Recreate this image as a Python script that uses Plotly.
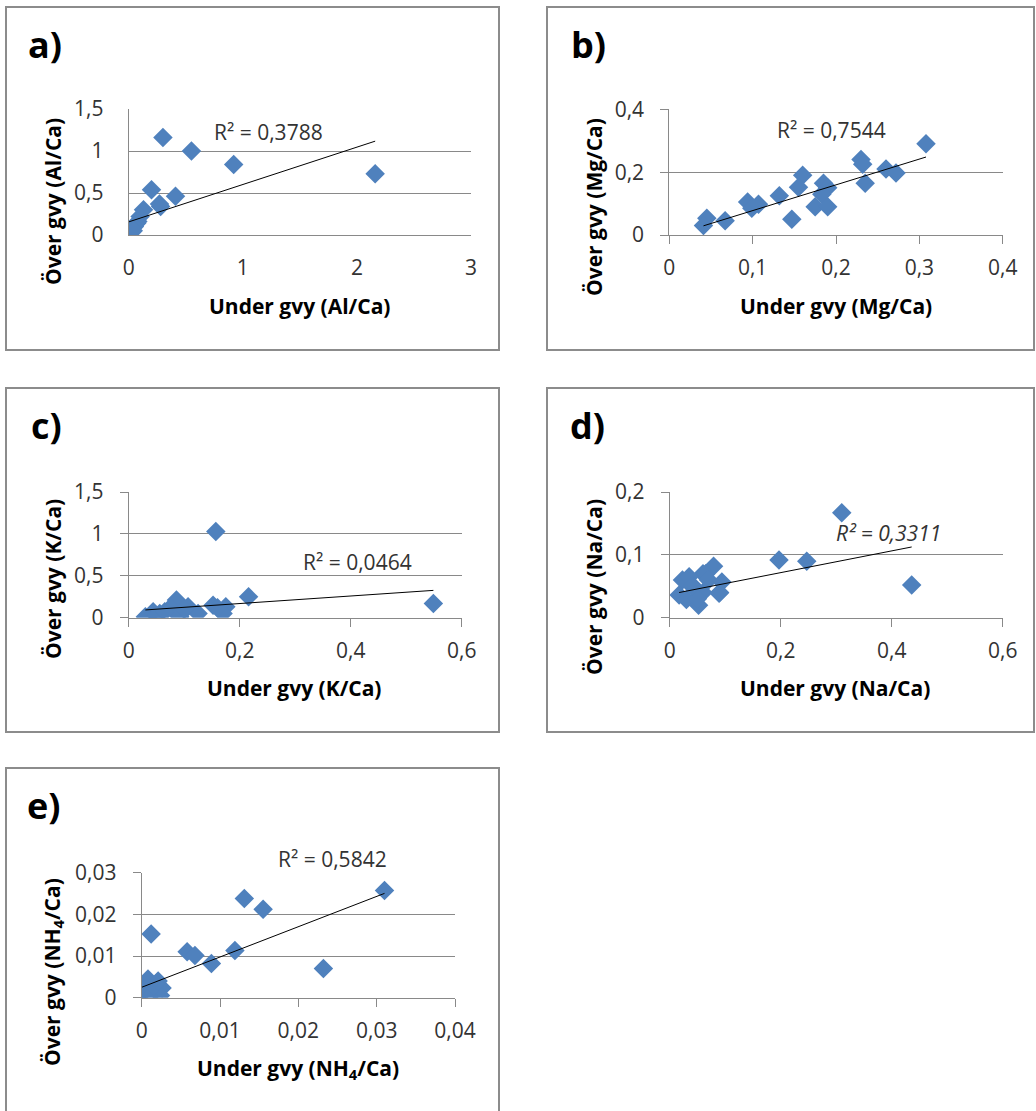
import plotly.graph_objects as go
import numpy as np

W, H = 1036, 1111

# ---------------- data ----------------
al_under = [0.30, 0.55, 0.92, 2.16, 0.20, 0.41, 0.28, 0.27, 0.13, 0.10, 0.08, 0.07, 0.05, 0.03, 0.02, 0.01, 0.0, 0.0, 0.04]
al_over = [1.16, 1.00, 0.84, 0.73, 0.54, 0.46, 0.34, 0.37, 0.30, 0.22, 0.16, 0.14, 0.10, 0.08, 0.06, 0.03, 0.0, 0.02, 0.05]

mg_under = [0.308, 0.230, 0.232, 0.235, 0.260, 0.272, 0.160, 0.155, 0.185, 0.190, 0.183, 0.175, 0.190, 0.147,
            0.132, 0.094, 0.099, 0.107, 0.045, 0.041, 0.067]
mg_over = [0.290, 0.240, 0.225, 0.165, 0.210, 0.197, 0.190, 0.152, 0.165, 0.150, 0.130, 0.090, 0.090, 0.050,
           0.125, 0.105, 0.085, 0.098, 0.053, 0.030, 0.045]

k_under = [0.157, 0.549, 0.216, 0.086, 0.092, 0.152, 0.175, 0.170, 0.107, 0.125, 0.160, 0.056, 0.044, 0.030,
           0.075, 0.100, 0.050, 0.065]
k_over = [1.03, 0.17, 0.25, 0.21, 0.01, 0.15, 0.13, 0.05, 0.13, 0.05, 0.12, 0.05, 0.07, 0.01,
          0.12, 0.10, 0.02, 0.07]

na_under = [0.310, 0.197, 0.247, 0.436, 0.079, 0.094, 0.090, 0.060, 0.023, 0.035, 0.017, 0.030, 0.052, 0.060,
            0.089, 0.044, 0.065, 0.050, 0.040, 0.070]
na_over = [0.167, 0.092, 0.090, 0.052, 0.082, 0.057, 0.040, 0.070, 0.060, 0.065, 0.036, 0.029, 0.020, 0.040,
           0.039, 0.049, 0.070, 0.030, 0.050, 0.060]

nh4_under = [0.0310, 0.0131, 0.0155, 0.0012, 0.0058, 0.0068, 0.0089, 0.0119, 0.0232, 0.0008, 0.0019, 0.0026,
             0.0024, 0.0000, 0.0004, 0.0010, 0.0015, 0.0021]
nh4_over = [0.0257, 0.0238, 0.0212, 0.0153, 0.0110, 0.0101, 0.0082, 0.0113, 0.0070, 0.0045, 0.0035, 0.0023,
            0.0005, 0.0008, 0.0020, 0.0003, 0.0027, 0.0040]

# linear trend lines (slope, intercept) as shown in the chart
trend_al = (0.445, 0.156)
trend_mg = (0.82, -0.0044)
trend_k = (0.45, 0.079)
trend_na = (0.173, 0.0371)
trend_nh4 = (0.727, 0.0025)

r2_labels = ["R² = 0,3788", "R² = 0,7544", "R² = 0,0464", "R² = 0,3311", "R² = 0,5842"]
panel_labels = ["a)", "b)", "c)", "d)", "e)"]
x_titles = ["Under gvy (Al/Ca)", "Under gvy (Mg/Ca)", "Under gvy (K/Ca)", "Under gvy (Na/Ca)",
            "Under gvy (NH<sub>4</sub>/Ca)"]
y_titles = ["Över gvy (Al/Ca)", "Över gvy (Mg/Ca)", "Över gvy (K/Ca)", "Över gvy (Na/Ca)",
            "Över gvy (NH<sub>4</sub>/Ca)"]

x_tickvals = [[0, 1, 2, 3], [0, 0.1, 0.2, 0.3, 0.4], [0, 0.2, 0.4, 0.6], [0, 0.2, 0.4, 0.6],
              [0, 0.01, 0.02, 0.03, 0.04]]
x_ticktext = [["0", "1", "2", "3"], ["0", "0,1", "0,2", "0,3", "0,4"], ["0", "0,2", "0,4", "0,6"],
              ["0", "0,2", "0,4", "0,6"], ["0", "0,01", "0,02", "0,03", "0,04"]]
y_tickvals = [[0, 0.5, 1, 1.5], [0, 0.2, 0.4], [0, 0.5, 1, 1.5], [0, 0.1, 0.2], [0, 0.01, 0.02, 0.03]]
y_ticktext = [["0", "0,5", "1", "1,5"], ["0", "0,2", "0,4"], ["0", "0,5", "1", "1,5"],
              ["0", "0,1", "0,2"], ["0", "0,01", "0,02", "0,03"]]

# ---------------- layout geometry (pixels in the page) ----------------
# plot areas: x0, x1, ytop, ybottom
areas = [(128.7, 471.0, 109.0, 235.0), (669.3, 1002.7, 109.3, 235.0), (128.7, 461.7, 492.0, 617.7),
         (669.7, 1002.7, 492.0, 617.7), (141.7, 455.0, 872.7, 997.7)]
boxes = [(6, 499, 7, 350), (547, 1034, 7, 350), (6, 499, 388, 732), (547, 1034, 388, 732), (6, 499, 768, 1120)]
label_pos = [(45, 44), (588, 44), (46, 425), (587, 425), (43, 805)]
r2_pos = [(268, 132), (831, 130), (357, 562), (888, 533), (332, 859)]
xt_pos = [(299, 306), (836, 306), (294, 688), (835, 688), (298, 1069)]
yt_pos = [(53, 202), (594, 207), (53, 579), (594, 587), (53, 972)]
has_ticks = [False, True, True, True, True]

datasets = [(al_under, al_over, trend_al), (mg_under, mg_over, trend_mg), (k_under, k_over, trend_k),
            (na_under, na_over, trend_na), (nh4_under, nh4_over, trend_nh4)]

FONT = "Open Sans"
BLUE = "#4F81BD"
GRID = "#898989"

def px(x):
    return x / W

def py(y):
    return 1 - y / H

fig = go.Figure()
layout = dict(width=W, height=H, autosize=False, margin=dict(l=0, r=0, t=0, b=0, pad=0, autoexpand=False),
              paper_bgcolor="white", plot_bgcolor="white", showlegend=False, annotations=[], shapes=[],
              template="none")

for i, ((xu, yo, (m, b)), area) in enumerate(zip(datasets, areas)):
    n = "" if i == 0 else str(i + 1)
    xa, ya = "x" + n, "y" + n
    fig.add_trace(go.Scatter(x=xu, y=yo, mode="markers", xaxis=xa, yaxis=ya, hoverinfo="skip",
                             marker=dict(symbol="diamond", size=15, color=BLUE, line=dict(width=0))))
    xs = np.array([min(xu), max(xu)])
    fig.add_trace(go.Scatter(x=xs, y=m * xs + b, mode="lines", xaxis=xa, yaxis=ya, hoverinfo="skip",
                             line=dict(color="black", width=1)))
    x0, x1, yt, yb = area
    tick = has_ticks[i]
    layout["xaxis" + n] = dict(domain=[px(x0), px(x1)], anchor=ya, range=[x_tickvals[i][0], x_tickvals[i][-1]],
                               tickmode="array", tickvals=x_tickvals[i], ticktext=x_ticktext[i],
                               showgrid=False, zeroline=False, automargin=False,
                               showline=True, linecolor=GRID, linewidth=1,
                               ticks="outside" if tick else "", ticklen=8, tickcolor=GRID,
                               ticklabelstandoff=6 if tick else 14,
                               tickfont=dict(family=FONT, size=21, color="#333333"))
    layout["yaxis" + n] = dict(domain=[py(yb), py(yt)], anchor=xa, range=[y_tickvals[i][0], y_tickvals[i][-1]],
                               tickmode="array", tickvals=y_tickvals[i], ticktext=y_ticktext[i],
                               showgrid=True, gridcolor=GRID, automargin=False,
                               gridwidth=1, zeroline=False, showline=True, linecolor=GRID, linewidth=1,
                               ticks="outside" if tick else "", ticklen=8, tickcolor=GRID,
                               ticklabelstandoff=12 if tick else 20,
                               tickfont=dict(family=FONT, size=21, color="#333333"))
    bx0, bx1, by0, by1 = boxes[i]
    layout["shapes"].append(dict(type="rect", xref="paper", yref="paper", x0=px(bx0), x1=px(bx1),
                                 y0=py(by1), y1=py(by0), line=dict(color="#8c8c8c", width=2)))
    lx, ly = label_pos[i]
    layout["annotations"].append(dict(text=panel_labels[i], x=px(lx), y=py(ly), xref="paper", yref="paper",
                                      showarrow=False, xanchor="center", yanchor="middle",
                                      font=dict(family=FONT, size=36, color="black", weight="bold")))
    rx, ry = r2_pos[i]
    layout["annotations"].append(dict(text=r2_labels[i], x=px(rx), y=py(ry), xref="paper", yref="paper",
                                      showarrow=False, xanchor="center", yanchor="middle",
                                      font=dict(family=FONT, size=21, color="#333333",
                                                style="italic" if i == 3 else "normal")))
    tx, ty = xt_pos[i]
    layout["annotations"].append(dict(text=x_titles[i], x=px(tx), y=py(ty), xref="paper", yref="paper",
                                      showarrow=False, xanchor="center", yanchor="middle",
                                      font=dict(family=FONT, size=21, color="black", weight="bold")))
    vx, vy = yt_pos[i]
    layout["annotations"].append(dict(text=y_titles[i], x=px(vx), y=py(vy), xref="paper", yref="paper",
                                      showarrow=False, xanchor="center", yanchor="middle", textangle=-90,
                                      font=dict(family=FONT, size=21, color="black", weight="bold")))

fig.update_layout(**layout)
fig.write_html("out.html", config={"displayModeBar": False},
               post_script="document.body.style.margin='0';document.body.style.overflow='hidden';")
